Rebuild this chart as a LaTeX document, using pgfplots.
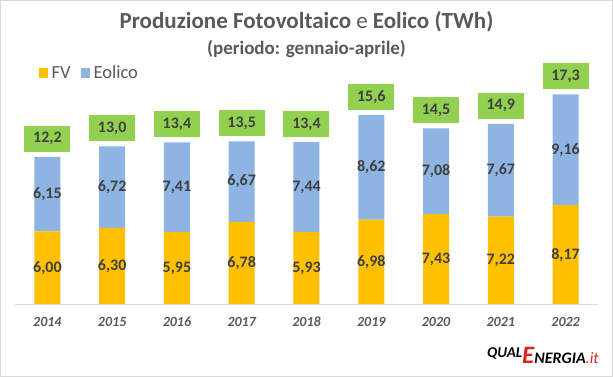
\documentclass[border=0pt]{standalone}
\usepackage{pgfplots}
\usepackage{pgfplotstable}
\pgfplotsset{compat=1.18}
\usepackage{fontspec}
\setmainfont{Carlito}
\definecolor{fv}{HTML}{FFC000}
\definecolor{eol}{HTML}{8EB4E3}
\definecolor{tot}{HTML}{92D050}
\definecolor{txt}{HTML}{404040}
\definecolor{ttl}{HTML}{595959}
\definecolor{brd}{HTML}{D9D9D9}
\definecolor{qred}{HTML}{D7261E}
\pgfplotstableread{
x fv eol tot fvl eoll totl
0 6.00 6.15 12.15 6,00 6,15 12,2
1 6.30 6.72 13.02 6,30 6,72 13,0
2 5.95 7.41 13.36 5,95 7,41 13,4
3 6.78 6.67 13.45 6,78 6,67 13,5
4 5.93 7.44 13.37 5,93 7,44 13,4
5 6.98 8.62 15.60 6,98 8,62 15,6
6 7.43 7.08 14.51 7,43 7,08 14,5
7 7.22 7.67 14.89 7,22 7,67 14,9
8 8.17 9.16 17.33 8,17 9,16 17,3
}\data
\begin{document}
\begin{tikzpicture}[x=1pt,y=1pt]
\useasboundingbox (0,0) rectangle (613,377);
\draw[brd, line width=1pt] (0.5,0.5) rectangle (612.5,376.5);
\node[font=\bfseries\fontsize{23}{25}\selectfont, text=ttl] at (306.5,355) {Produzione Fotovoltaico {\mdseries e} Eolico (TWh)};
\node[font=\bfseries\fontsize{19}{21}\selectfont, text=ttl] at (306.5,328) {(periodo: gennaio-aprile)};
\begin{axis}[at={(15pt,73pt)}, anchor=south west, scale only axis,
  width=583pt, height=242pt, xmin=-0.5, xmax=8.5, ymin=0, ymax=20,
  ybar stacked, bar width=26pt,
  axis x line*=bottom, axis y line=none,
  x axis line style={draw=brd, line width=0.8pt, -},
  xtick={0,...,8}, xticklabels={2014,2015,2016,2017,2018,2019,2020,2021,2022},
  major tick length=0pt,
  xticklabel style={font=\bfseries\itshape\fontsize{14}{16}\selectfont, text=ttl, anchor=base, yshift=-23pt},
  legend style={at={(0.035,0.955)}, anchor=west, draw=none, fill=none,
    legend columns=-1, font=\fontsize{18.5}{20}\selectfont, text=ttl,
    /tikz/every odd column/.append style={column sep=2pt},
    /tikz/every even column/.append style={column sep=8pt}},
  legend image code/.code={\fill[#1] (0pt,-5pt) rectangle (9pt,5pt);},
]
\addplot[fill=fv, draw=none] table[x=x, y=fv] {\data};
\addplot[fill=eol, draw=none] table[x=x, y=eol] {\data};
\legend{FV, Eolico}
\end{axis}
\begin{axis}[at={(15pt,73pt)}, anchor=south west, scale only axis,
  width=583pt, height=242pt, xmin=-0.5, xmax=8.5, ymin=0, ymax=20,
  hide axis, clip=false,
  nodes near coords, point meta=explicit symbolic,
]
\addplot[only marks, mark=none, nodes near coords style={anchor=center, font=\bfseries\fontsize{16}{18}\selectfont, text=txt}]
  table[x=x, y expr=\thisrow{fv}/2, meta=fvl] {\data};
\addplot[only marks, mark=none, nodes near coords style={anchor=center, font=\bfseries\fontsize{16}{18}\selectfont, text=txt}]
  table[x=x, y expr=\thisrow{fv}+\thisrow{eol}/2, meta=eoll] {\data};
\addplot[only marks, mark=none, nodes near coords style={anchor=south, yshift=5pt, fill=tot, minimum width=46pt, minimum height=26pt, inner sep=0pt, font=\bfseries\fontsize{16}{18}\selectfont, text=txt}]
  table[x=x, y=tot, meta=totl] {\data};
\end{axis}
\node[anchor=base east, inner sep=0pt] at (599,13) {\bfseries\itshape\fontsize{16}{18}\selectfont \raisebox{6pt}{\fontsize{15}{16}\selectfont QUAL}\textcolor{qred}{\fontsize{25}{26}\selectfont E}NERGIA\textcolor{qred}{\mdseries.it}};
\end{tikzpicture}
\end{document}
